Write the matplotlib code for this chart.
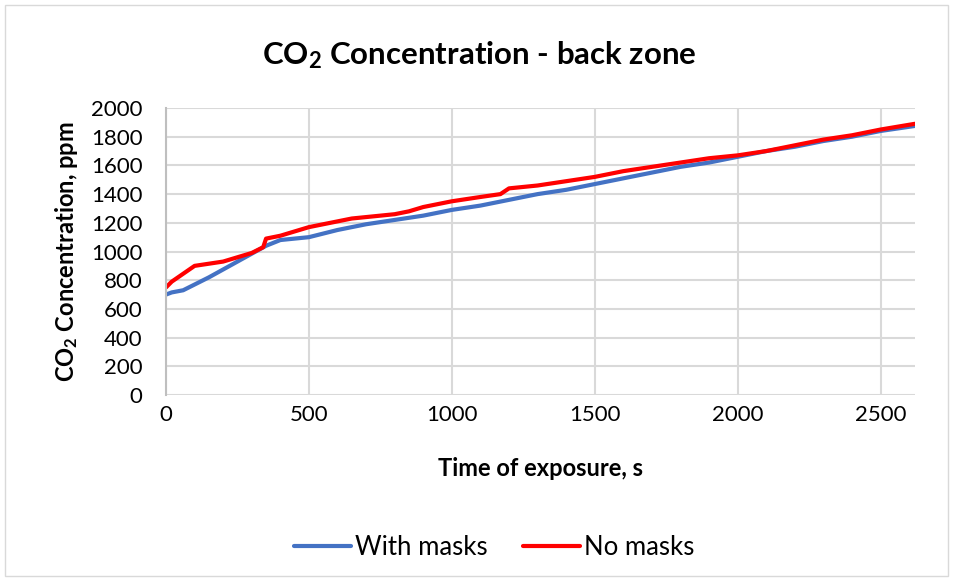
import matplotlib
matplotlib.use("Agg")
import matplotlib.pyplot as plt
from matplotlib.patches import Rectangle

plt.rcParams['font.family'] = ['Lato', 'DejaVu Sans']
plt.rcParams['mathtext.fontset'] = 'custom'
plt.rcParams['mathtext.rm'] = 'Lato'
plt.rcParams['mathtext.bf'] = 'Lato:bold'

# data
t_masks = [0, 20, 60, 150, 250, 350, 400, 500, 600, 700, 800, 900, 1000, 1100, 1200,
           1300, 1400, 1500, 1600, 1700, 1800, 1900, 2000, 2100, 2200, 2300, 2400, 2500, 2620]
co2_masks = [700, 715, 730, 820, 930, 1040, 1080, 1100, 1150, 1190, 1220, 1250, 1290, 1320, 1360,
             1400, 1430, 1470, 1510, 1550, 1590, 1620, 1660, 1700, 1730, 1770, 1800, 1840, 1875]

t_nomasks = [0, 20, 100, 200, 300, 340, 350, 400, 500, 600, 650, 800, 850, 900, 1000, 1100,
             1170, 1200, 1300, 1400, 1500, 1600, 1700, 1800, 1900, 2000, 2100, 2200, 2300,
             2400, 2500, 2620]
co2_nomasks = [750, 790, 900, 930, 990, 1030, 1090, 1110, 1170, 1210, 1230, 1260, 1280, 1310,
               1350, 1380, 1400, 1440, 1460, 1490, 1520, 1560, 1590, 1620, 1650, 1670, 1700,
               1740, 1780, 1810, 1850, 1890]

x_ticks = [0, 500, 1000, 1500, 2000, 2500]
y_ticks = list(range(0, 2001, 200))

fig = plt.figure(figsize=(9.58, 5.81), dpi=100)
ax = fig.add_axes([0.1733, 0.3201, 0.7817, 0.494])

ax.plot(t_masks, co2_masks, color='#4472C4', lw=3.0, label='With masks', solid_capstyle='round')
ax.plot(t_nomasks, co2_nomasks, color='#FF0000', lw=3.0, label='No masks', solid_capstyle='round')

ax.set_xlim(0, 2620)
ax.set_ylim(0, 2000)
ax.set_xticks(x_ticks)
ax.set_yticks(y_ticks)
ax.grid(True, color='#D9D9D9', lw=1.5)
ax.set_axisbelow(True)
for s in ['top', 'right', 'bottom']:
    ax.spines[s].set_visible(False)
ax.spines['left'].set_color('#BFBFBF')
ax.spines['left'].set_linewidth(1.5)
ax.tick_params(length=0, labelsize=16, colors='#000000')
ax.tick_params(axis='y', pad=17)
ax.tick_params(axis='x', pad=7)

ax.set_xlabel('Time of exposure, s', fontsize=17, fontweight='bold', labelpad=23)
ax.set_ylabel(r'$\mathbf{CO_2}$ Concentration, ppm', fontsize=17, fontweight='bold', labelpad=8)
fig.text(0.5, 0.905, r'$\mathbf{CO_2}$ Concentration - back zone', ha='center', va='center',
         fontsize=22.5, fontweight='bold')

fig.legend(loc='center', bbox_to_anchor=(0.516, 0.058), ncol=2, frameon=False, fontsize=18.5,
           handlelength=2.2, handletextpad=0.15, columnspacing=1.4)

fig.patches.append(Rectangle((0.005, 0.008), 0.985, 0.984, transform=fig.transFigure,
                             fill=False, edgecolor='#D9D9D9', lw=1))

fig.savefig('out.png', dpi=100)
